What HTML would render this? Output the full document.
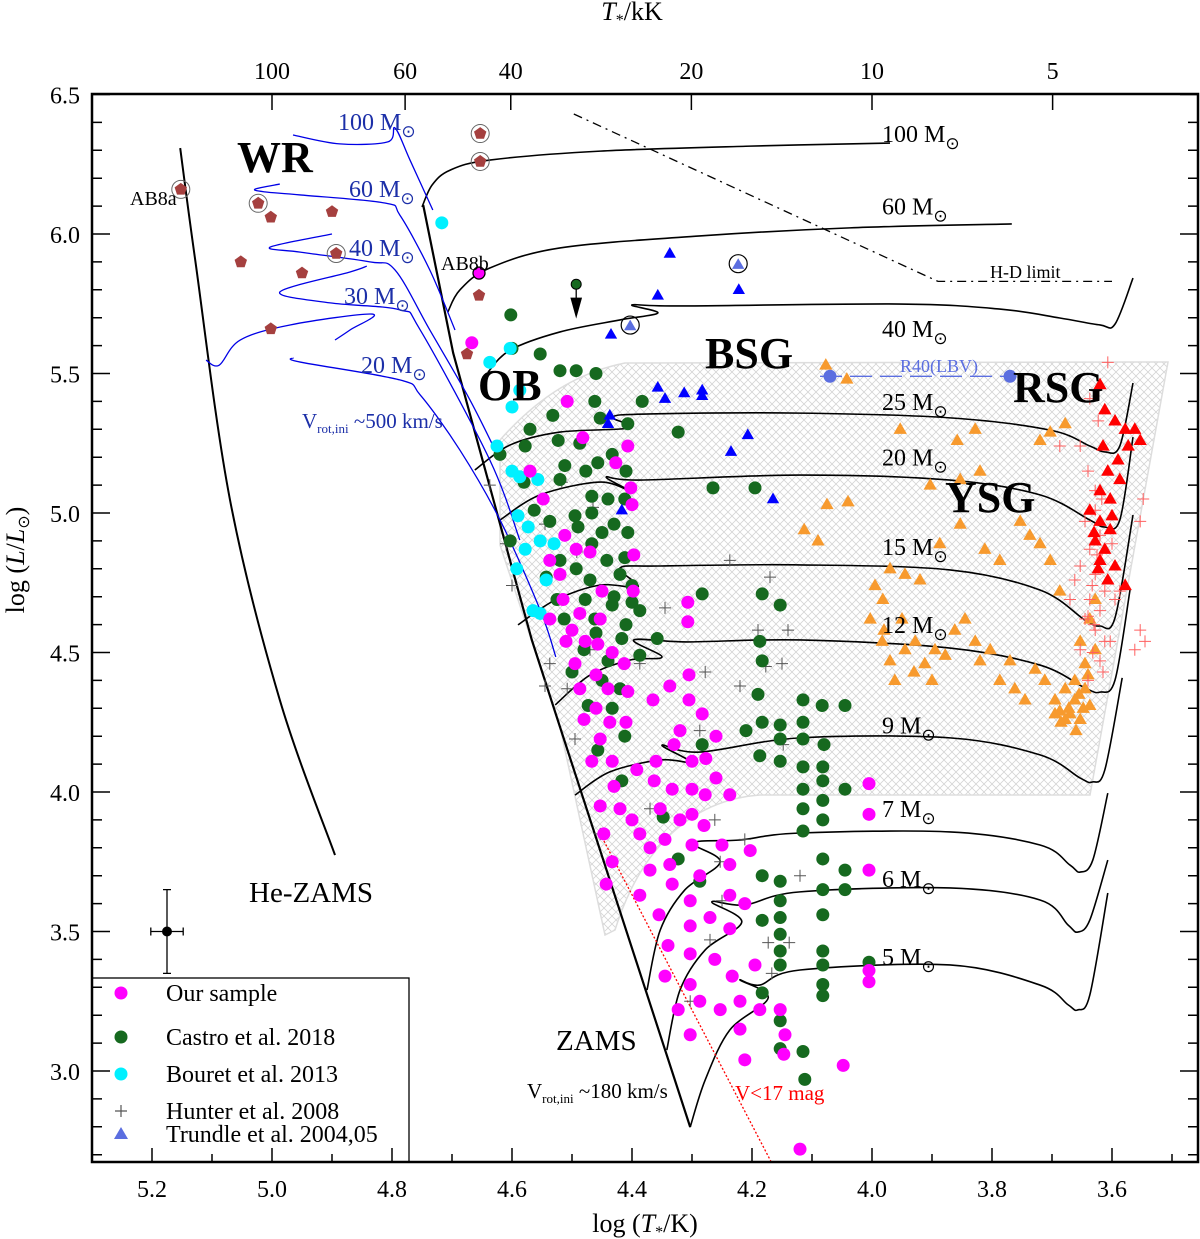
<!DOCTYPE html>
<html><head><meta charset="utf-8">
<style>
html,body{margin:0;padding:0;background:#fff;}
svg{display:block;}
svg text{font-family:"Liberation Serif",serif;}
</style></head>
<body>
<svg id="chart" width="1200" height="1239" viewBox="0 0 1200 1239" xmlns="http://www.w3.org/2000/svg" font-family="Liberation Serif, serif">
<defs>
<pattern id="hatch" width="8" height="8" patternUnits="userSpaceOnUse">
<path d="M0,0 L8,8 M8,0 L0,8" stroke="#d4d4d4" stroke-width="0.8"/>
</pattern>
</defs>
<g id="layer-bg"></g>
<g id="layer-tracks"></g>
<g id="layer-points"></g>
<g id="layer-text"></g>
<g id="layer-axes"></g>
</svg>
<script>
// ---------- data arrays ----------
const xTicks = [5.2, 5.0, 4.8, 4.6, 4.4, 4.2, 4.0, 3.8, 3.6];
const xTickLabels = ["5.2","5.0","4.8","4.6","4.4","4.2","4.0","3.8","3.6"];
const yTicks = [3.0, 3.5, 4.0, 4.5, 5.0, 5.5, 6.0, 6.5];
const yTickLabels = ["3.0","3.5","4.0","4.5","5.0","5.5","6.0","6.5"];
const topTicksKK = [100, 60, 40, 20, 10, 5];

const ourSample = [[4.667,5.61],[4.508,5.40],[4.482,5.27],[4.407,5.24],[4.427,5.18],[4.402,5.09],[4.40,5.03],[4.57,5.15],[4.548,5.05],[4.512,4.92],[4.493,4.87],[4.537,4.83],[4.47,4.86],[4.45,4.72],[4.397,4.85],[4.398,4.72],[4.515,4.69],[4.537,4.62],[4.487,4.64],[4.453,4.62],[4.51,4.54],[4.478,4.54],[4.307,4.68],[4.307,4.61],[4.457,4.53],[4.433,4.50],[4.495,4.46],[4.487,4.37],[4.46,4.42],[4.44,4.37],[4.413,4.46],[4.407,4.36],[4.365,4.33],[4.337,4.38],[4.305,4.42],[4.305,4.33],[4.283,4.28],[4.26,4.20],[4.48,4.26],[4.453,4.19],[4.437,4.25],[4.41,4.25],[4.467,4.11],[4.433,4.11],[4.392,4.08],[4.36,4.11],[4.33,4.17],[4.30,4.11],[4.277,4.12],[4.363,4.04],[4.333,4.01],[4.30,4.01],[4.453,3.95],[4.42,3.94],[4.353,3.94],[4.30,3.92],[4.237,3.99],[4.278,3.99],[4.447,3.85],[4.387,3.85],[4.345,3.83],[4.30,3.81],[4.25,3.81],[4.203,3.79],[4.433,3.75],[4.37,3.72],[4.337,3.74],[4.287,3.70],[4.237,3.74],[4.443,3.67],[4.387,3.63],[4.333,3.67],[4.303,3.61],[4.237,3.63],[4.212,3.60],[4.355,3.56],[4.303,3.52],[4.27,3.55],[4.237,3.51],[4.34,3.45],[4.303,3.42],[4.262,3.40],[4.233,3.34],[4.345,3.34],[4.303,3.31],[4.195,3.38],[4.287,3.25],[4.22,3.25],[4.323,3.22],[4.253,3.22],[4.187,3.22],[4.303,3.13],[4.22,3.15],[4.153,3.22],[4.212,3.04],[4.145,3.13],[4.005,4.03],[4.005,3.92],[4.005,3.72],[4.005,3.36],[4.005,3.32],[4.048,3.02],[4.12,2.72],[4.147,3.06],[4.52,4.78],[4.50,4.58],[4.46,4.30],[4.43,4.02],[4.40,3.90],[4.37,3.80],[4.32,3.90],[4.28,3.88],[4.32,4.22],[4.26,4.05]];
const castro = [[4.602,5.71],[4.553,5.57],[4.60,5.59],[4.52,5.51],[4.493,5.51],[4.46,5.50],[4.462,5.40],[4.383,5.40],[4.453,5.34],[4.532,5.35],[4.407,5.32],[4.323,5.29],[4.57,5.30],[4.523,5.26],[4.487,5.25],[4.62,5.21],[4.578,5.24],[4.433,5.21],[4.512,5.17],[4.457,5.18],[4.477,5.15],[4.58,5.11],[4.52,5.12],[4.467,5.06],[4.44,5.05],[4.412,5.05],[4.41,5.15],[4.265,5.09],[4.195,5.09],[4.563,5.01],[4.537,4.97],[4.495,4.99],[4.467,5.00],[4.43,4.96],[4.407,4.93],[4.603,4.90],[4.52,4.83],[4.467,4.89],[4.442,4.83],[4.412,4.84],[4.543,4.77],[4.493,4.80],[4.47,4.76],[4.42,4.78],[4.40,4.74],[4.525,4.69],[4.478,4.69],[4.433,4.67],[4.40,4.68],[4.513,4.62],[4.462,4.62],[4.387,4.65],[4.283,4.71],[4.183,4.71],[4.153,4.67],[4.417,4.55],[4.358,4.55],[4.48,4.51],[4.387,4.49],[4.45,4.40],[4.42,4.37],[4.187,4.54],[4.183,4.47],[4.19,4.35],[4.115,4.33],[4.083,4.31],[4.045,4.31],[4.473,4.31],[4.433,4.30],[4.412,4.20],[4.283,4.17],[4.183,4.25],[4.115,4.25],[4.153,4.24],[4.21,4.22],[4.187,4.13],[4.153,4.19],[4.115,4.19],[4.08,4.17],[4.457,4.15],[4.417,4.04],[4.153,4.11],[4.115,4.09],[4.082,4.09],[4.082,4.04],[4.115,4.01],[4.045,4.01],[4.082,3.97],[4.115,3.94],[4.082,3.90],[4.115,3.86],[4.348,3.91],[4.323,3.76],[4.183,3.70],[4.045,3.72],[4.082,3.76],[4.153,3.68],[4.153,3.61],[4.082,3.65],[4.045,3.65],[4.287,3.68],[4.183,3.54],[4.153,3.55],[4.153,3.49],[4.082,3.56],[4.153,3.43],[4.082,3.43],[4.153,3.38],[4.082,3.38],[4.183,3.28],[4.082,3.31],[4.082,3.27],[4.153,3.18],[4.115,3.07],[4.005,3.39],[4.112,2.97],[4.153,3.08],[4.49,4.95],[4.45,4.93],[4.43,4.70],[4.41,4.60],[4.46,4.57],[4.50,4.43],[4.44,4.47]];
const bouret = [[4.717,6.04],[4.603,5.59],[4.637,5.54],[4.587,5.44],[4.60,5.38],[4.625,5.24],[4.60,5.15],[4.587,5.13],[4.557,5.12],[4.59,4.99],[4.573,4.95],[4.553,4.90],[4.578,4.87],[4.592,4.80],[4.543,4.76],[4.565,4.65],[4.553,4.64],[4.53,4.89]];
const hunter = [[4.637,5.10],[4.61,4.89],[4.545,4.96],[4.517,5.11],[4.465,5.02],[4.492,4.86],[4.60,4.74],[4.54,4.62],[4.545,4.38],[4.537,4.46],[4.508,4.37],[4.237,4.83],[4.17,4.77],[4.345,4.66],[4.14,4.58],[4.177,4.45],[4.15,4.46],[4.278,4.43],[4.22,4.38],[4.19,4.58],[4.148,4.17],[4.287,4.22],[4.387,4.46],[4.262,3.90],[4.253,3.75],[4.212,3.83],[4.12,3.70],[4.173,3.46],[4.138,3.46],[4.27,3.47],[4.167,3.35],[4.303,3.25],[4.25,3.61],[4.37,3.94],[4.453,3.85],[4.495,4.19],[4.47,4.51]];
const trundle = [[4.435,5.64],[4.337,5.93],[4.357,5.78],[4.222,5.80],[4.437,5.35],[4.44,5.32],[4.357,5.45],[4.345,5.41],[4.313,5.43],[4.283,5.44],[4.283,5.42],[4.207,5.28],[4.235,5.22],[4.165,5.05],[4.417,5.01]];
const trundleCircled = [[4.403,5.67],[4.223,5.89]];
const ysgT = [[4.077,5.53],[4.042,5.48],[4.113,4.94],[4.09,4.90],[4.075,5.03],[4.04,5.04],[3.953,5.30],[3.858,5.26],[3.828,5.30],[3.72,5.26],[3.703,5.29],[3.678,5.32],[3.903,5.10],[3.853,5.12],[3.82,5.15],[3.995,4.74],[3.982,4.69],[3.97,4.80],[3.945,4.78],[3.92,4.76],[3.887,4.89],[3.853,4.96],[3.812,4.87],[3.787,4.83],[3.753,4.97],[3.737,4.92],[3.72,4.89],[3.703,4.83],[3.687,4.72],[4.003,4.62],[3.983,4.54],[3.97,4.47],[3.962,4.40],[3.945,4.51],[3.928,4.54],[3.912,4.46],[3.895,4.51],[3.878,4.49],[3.862,4.58],[3.845,4.62],[3.828,4.54],[3.82,4.47],[3.803,4.51],[3.787,4.40],[3.77,4.47],[3.762,4.37],[3.745,4.33],[3.728,4.44],[3.712,4.40],[3.695,4.33],[3.687,4.29],[3.678,4.37],[3.67,4.28],[3.662,4.33],[3.653,4.26],[3.645,4.37],[3.637,4.31],[3.678,4.26],[3.662,4.40],[3.645,4.46],[3.628,4.51],[3.653,4.54],[3.637,4.62],[3.628,4.69],[3.695,4.28],[3.66,4.22],[3.672,4.30],[3.648,4.30],[3.685,4.25],[3.655,4.35],[3.64,4.42],[3.95,4.62],[3.90,4.40],[3.98,4.58],[3.93,4.43]];
const rsgT = [[3.62,5.46],[3.612,5.37],[3.595,5.33],[3.578,5.30],[3.562,5.30],[3.553,5.26],[3.573,5.24],[3.59,5.19],[3.607,5.15],[3.62,5.08],[3.603,5.05],[3.637,5.01],[3.62,4.97],[3.603,4.94],[3.628,4.90],[3.612,4.87],[3.62,4.83],[3.595,4.81],[3.578,4.74],[3.607,4.76],[3.623,4.80],[3.587,5.12],[3.615,5.24],[3.63,4.93],[3.60,4.99]];
const rsgCross = [[3.607,5.54],[3.637,5.41],[3.623,5.33],[3.653,5.24],[3.64,5.15],[3.628,5.08],[3.645,4.97],[3.62,4.92],[3.637,4.87],[3.653,4.81],[3.628,4.78],[3.612,4.72],[3.637,4.69],[3.62,4.65],[3.645,4.62],[3.628,4.58],[3.603,4.54],[3.653,4.51],[3.62,4.47],[3.64,4.40],[3.553,4.58],[3.562,4.51],[3.545,4.54],[3.553,4.97],[3.548,5.05],[3.587,4.72],[3.662,4.76],[3.67,4.69],[3.595,4.69],[3.612,4.54],[3.633,4.74],[3.617,5.05],[3.60,4.89],[3.628,5.01],[3.687,5.24],[3.63,4.60],[3.625,4.85],[3.64,4.63],[3.615,4.43],[3.632,4.50]];
const wrStars = [[5.152,6.16,1],[5.023,6.11,1],[5.002,6.06,0],[4.90,6.08,0],[4.893,5.93,1],[5.052,5.90,0],[4.95,5.86,0],[5.002,5.66,0],[4.653,6.36,1],[4.653,6.26,1],[4.655,5.78,0],[4.675,5.57,0]];
const lbv = [[4.07,5.49],[3.77,5.49]];

const zams = [[4.748,6.104],[4.698,5.573],[4.687,5.487],[4.567,4.545],[4.52,4.233],[4.303,2.799]];
const heZams = [[5.153,6.308],[5.128,5.907],[5.07,5.047],[4.987,4.33],[4.895,3.774]];
const trackMasses = ["100","60","40","25","20","15","12","9","7","6","5"];
const trackLabelL = [6.33,6.07,5.63,5.37,5.17,4.85,4.57,4.21,3.91,3.66,3.38];
const tracks = [
 [[4.75,6.097],[4.733,6.176],[4.703,6.229],[4.637,6.265],[4.453,6.297],[4.203,6.315],[3.97,6.326]],
 [[4.707,5.72],[4.687,5.799],[4.637,5.878],[4.52,5.95],[4.287,5.993],[4.037,6.022],[3.767,6.036]],
 [[4.64,5.505],[4.603,5.584],[4.52,5.649],[4.42,5.692],[4.357,5.717],[4.4,5.746],[4.32,5.742],[3.953,5.749],[3.787,5.731],[3.687,5.699],[3.62,5.674],[3.595,5.677],[3.565,5.842]],
 [[4.662,5.154],[4.603,5.244],[4.52,5.29],[4.403,5.305],[4.433,5.344],[4.37,5.355],[4.12,5.358],[3.87,5.341],[3.703,5.297],[3.637,5.24],[3.612,5.219],[3.587,5.24],[3.565,5.466]],
 [[4.62,4.975],[4.553,5.065],[4.453,5.111],[4.4,5.075],[4.443,5.129],[4.387,5.118],[4.12,5.136],[3.87,5.118],[3.72,5.065],[3.637,4.975],[3.613,4.95],[3.587,4.975],[3.565,5.272]],
 [[4.59,4.599],[4.528,4.688],[4.453,4.742],[4.39,4.735],[4.42,4.803],[4.353,4.81],[4.12,4.814],[3.87,4.796],[3.72,4.724],[3.645,4.616],[3.62,4.595],[3.595,4.624],[3.565,4.993]],
 [[4.528,4.312],[4.47,4.419],[4.403,4.473],[4.35,4.484],[4.397,4.545],[4.308,4.538],[4.12,4.545],[3.87,4.516],[3.72,4.455],[3.645,4.373],[3.62,4.358],[3.595,4.401],[3.57,4.724]],
 [[4.495,3.989],[4.437,4.072],[4.353,4.115],[4.303,4.108],[4.35,4.168],[4.287,4.143],[4.12,4.194],[3.87,4.194],[3.72,4.133],[3.653,4.05],[3.633,4.036],[3.612,4.079],[3.583,4.409]],
 [[4.375,3.29],[4.353,3.505],[4.312,3.649],[4.253,3.749],[4.298,3.817],[4.22,3.828],[4.12,3.853],[3.87,3.857],[3.72,3.81],[3.67,3.738],[3.653,3.713],[3.632,3.756],[3.607,3.996]],
 [[4.342,3.075],[4.32,3.29],[4.278,3.434],[4.217,3.534],[4.267,3.606],[4.212,3.595],[4.12,3.642],[3.87,3.656],[3.72,3.613],[3.673,3.523],[3.657,3.498],[3.637,3.541],[3.607,3.756]],
 [[4.303,2.799],[4.278,2.968],[4.237,3.147],[4.173,3.262],[4.22,3.326],[4.187,3.308],[4.12,3.362],[3.87,3.38],[3.72,3.308],[3.673,3.237],[3.657,3.219],[3.637,3.272],[3.607,3.638]]
];
const rotTrackMasses = ["100","60","40","30","20"];
const rotTracks = [
 [[4.732,6.086],[4.77,6.265],[4.795,6.38],[4.807,6.33],[4.887,6.323],[4.965,6.355]],
 [[4.987,6.179],[5.028,6.161],[5.012,6.151],[4.953,6.14],[4.812,6.111],[4.787,6.068],[4.737,5.871],[4.695,5.656]],
 [[4.9,6.0],[5.003,5.953],[4.953,5.935],[4.837,5.9],[4.795,5.871],[4.737,5.656],[4.67,5.405],[4.62,5.19]],
 [[4.842,5.885],[4.87,5.864],[4.987,5.792],[4.903,5.753],[4.787,5.728],[4.753,5.656],[4.637,5.19],[4.587,4.903]],
 [[5.11,5.548],[5.088,5.53],[5.053,5.62],[4.97,5.674],[4.833,5.713],[4.87,5.656],[4.895,5.62]],
 [[4.965,5.556],[4.953,5.541],[4.787,5.477],[4.753,5.423],[4.687,5.226],[4.62,4.975],[4.553,4.652],[4.527,4.484]]
];
const hdLimit = [[4.497,6.43],[3.89,5.83],[3.60,5.83]];
const vLimit = [[4.453,3.85],[4.167,2.67]];
const errBar = [5.175, 3.5, 0.027, 0.15];

// ---------- scales ----------
const X = t => 272 + (5 - t) * 600;
const Y = l => 513 + (5 - l) * 279;
const NS = "http://www.w3.org/2000/svg";
function mk(tag, parent) { const e = document.createElementNS(NS, tag); parent.appendChild(e); return e; }
const gBg = document.getElementById('layer-bg');
const gTr = document.getElementById('layer-tracks');
const gPt = document.getElementById('layer-points');
const gTx = document.getElementById('layer-text');
const gAx = document.getElementById('layer-axes');
function pathD(arr){ return arr.map((p,i)=>(i?'L':'M')+X(p[0]).toFixed(1)+','+Y(p[1]).toFixed(1)).join(' '); }
function smoothD(arr){
  const P = arr.map(p=>[X(p[0]),Y(p[1])]);
  let d = 'M'+P[0][0]+','+P[0][1];
  for(let i=0;i<P.length-1;i++){
    const p0=P[Math.max(0,i-1)],p1=P[i],p2=P[i+1],p3=P[Math.min(P.length-1,i+2)];
    const c1=[p1[0]+(p2[0]-p0[0])/6,p1[1]+(p2[1]-p0[1])/6];
    const c2=[p2[0]-(p3[0]-p1[0])/6,p2[1]-(p3[1]-p1[1])/6];
    d+=' C'+c1.join(',')+' '+c2.join(',')+' '+p2.join(',');
  }
  return d;
}
function txt(parent,x,y,s,opts){
  const t=mk('text',parent); t.setAttribute('x',x); t.setAttribute('y',y);
  t.setAttribute('font-family','Liberation Serif, serif');
  t.setAttribute('font-size',opts.size||24); if(opts.fill) t.setAttribute('fill',opts.fill);
  if(opts.weight) t.setAttribute('font-weight',opts.weight);
  if(opts.anchor) t.setAttribute('text-anchor',opts.anchor);
  t.innerHTML=s; return t;
}

// hatched region
const hatch = mk('path', gBg);


hatch.setAttribute('d','M500,440 C540,395 580,372 625,363 L1168,362 L1090,795 L760,795 C690,800 640,850 615,930 L605,935 L560,727 L500,545 Z');
hatch.setAttribute('fill','url(#hatch)'); hatch.setAttribute('stroke','#dddddd'); hatch.setAttribute('stroke-width','1.5');

// ZAMS, He-ZAMS
const zl = mk('path', gTr);


zl.setAttribute('d',pathD(zams)); zl.setAttribute('fill','none'); zl.setAttribute('stroke','#000'); zl.setAttribute('stroke-width','2.2');
const hz = mk('path', gTr);


hz.setAttribute('d',smoothD(heZams)); hz.setAttribute('fill','none'); hz.setAttribute('stroke','#000'); hz.setAttribute('stroke-width','2');

tracks.forEach((tr,i)=>{
  const p = mk('path', gTr);
  
  
  p.setAttribute('d',smoothD(tr)); p.setAttribute('fill','none'); p.setAttribute('stroke','#000'); p.setAttribute('stroke-width','1.6');
  const lbl = txt(gTx, 882, Y(trackLabelL[i]), trackMasses[i]+' M<tspan font-size="17" dy="7">⊙</tspan>', {size:24});
  
  
});
rotTracks.forEach((tr,i)=>{
  const p = mk('path', gTr);
  
  
  p.setAttribute('d',smoothD(tr)); p.setAttribute('fill','none'); p.setAttribute('stroke','#0000e6'); p.setAttribute('stroke-width','1.3');
});
const rotLab = [[338,130],[349,197],[349,256],[344,304],[361,373]];
rotTrackMasses.forEach((m,i)=>{
  const l = txt(gTx, rotLab[i][0], rotLab[i][1], m+' M<tspan font-size="17" dy="7">⊙</tspan>', {size:24, fill:'#1c2fa8'});
  
  
});

// H-D limit
const hd = mk('path', gTr);


hd.setAttribute('d',pathD(hdLimit)); hd.setAttribute('fill','none'); hd.setAttribute('stroke','#000'); hd.setAttribute('stroke-width','1.3'); hd.setAttribute('stroke-dasharray','9,5,2,5');
// V<17 limit
const vl = mk('path', gTr);


vl.setAttribute('d',pathD(vLimit)); vl.setAttribute('fill','none'); vl.setAttribute('stroke','#ff0000'); vl.setAttribute('stroke-width','1.3'); vl.setAttribute('stroke-dasharray','2,2');
// LBV dashed line
const lb = mk('path', gTr);


lb.setAttribute('d','M'+(X(lbv[0][0])-10)+','+Y(lbv[0][1])+' L'+X(lbv[1][0])+','+Y(lbv[1][1]));
lb.setAttribute('stroke','#5b6ee0'); lb.setAttribute('stroke-width','1.3'); lb.setAttribute('stroke-dasharray','22,8');

// markers
function circle(arr, name, fill, r){
  arr.forEach(p=>{
    const c = mk('circle', gPt);
    
    
    c.setAttribute('cx',X(p[0])); c.setAttribute('cy',Y(p[1])); c.setAttribute('r',r); c.setAttribute('fill',fill);
  });
}
function tri(arr, name, fill, s){
  arr.forEach(p=>{
    const x=X(p[0]), y=Y(p[1]);
    const t = mk('polygon', gPt);
    
    
    t.setAttribute('points',`${x},${y-s} ${x-s*0.95},${y+s*0.65} ${x+s*0.95},${y+s*0.65}`); t.setAttribute('fill',fill);
  });
}
function cross(arr, name, stroke, s, w){
  arr.forEach(p=>{
    const x=X(p[0]), y=Y(p[1]);
    const c = mk('path', gPt);
    
    
    c.setAttribute('d',`M${x-s},${y} L${x+s},${y} M${x},${y-s} L${x},${y+s}`); c.setAttribute('stroke',stroke); c.setAttribute('stroke-width',w);
  });
}
cross(hunter,'hunter-star','#555',6,1);
circle(castro,'castro-star','#16691f',6.5);
circle(bouret,'bouret-star','#00f0ff',6.5);
circle(ourSample,'our-sample-star','#ff00ff',6.5);
tri(ysgT,'ysg-star','#f79a2e',7);
cross(rsgCross,'rsg-cross','#ff6060',6,1);
tri(rsgT,'rsg-star','#ff0000',7);
tri(trundle,'trundle-star','#0000ff',6.5);
trundleCircled.forEach(p=>{
  const c = mk('circle', gPt);
  
  
  c.setAttribute('cx',X(p[0])); c.setAttribute('cy',Y(p[1])-1); c.setAttribute('r',9); c.setAttribute('fill','none'); c.setAttribute('stroke','#000'); c.setAttribute('stroke-width','1.2');
});
tri(trundleCircled,'trundle-circled-star','#5b6ee0',6.5);
wrStars.forEach(p=>{
  const x=X(p[0]), y=Y(p[1]);
  if(p[2]){
    const c = mk('circle', gPt);
    
    
    c.setAttribute('cx',x); c.setAttribute('cy',y); c.setAttribute('r',9); c.setAttribute('fill','none'); c.setAttribute('stroke','#666'); c.setAttribute('stroke-width','1');
  }
  let pts=[]; for(let k=0;k<5;k++){const a=-Math.PI/2+k*2*Math.PI/5; pts.push((x+6.5*Math.cos(a)).toFixed(1)+','+(y+6.5*Math.sin(a)).toFixed(1));}
  const pg = mk('polygon', gPt);
  
  
  pg.setAttribute('points',pts.join(' ')); pg.setAttribute('fill','#a5403f');
});
// AB8b magenta circled
const ab8b = mk('circle', gPt);


ab8b.setAttribute('cx',X(4.655)); ab8b.setAttribute('cy',Y(5.86)); ab8b.setAttribute('r',6); ab8b.setAttribute('fill','#ff00ff'); ab8b.setAttribute('stroke','#000'); ab8b.setAttribute('stroke-width','1.3');
// green star with upper-limit arrow
const ul = mk('circle', gPt);


ul.setAttribute('cx',X(4.493)); ul.setAttribute('cy',Y(5.82)); ul.setAttribute('r',5); ul.setAttribute('fill','#16691f'); ul.setAttribute('stroke','#000'); ul.setAttribute('stroke-width','1');
const ar = mk('path', gPt);


ar.setAttribute('d',`M${X(4.493)},${Y(5.82)+5} L${X(4.493)},${Y(5.82)+26} M${X(4.493)-5},${Y(5.82)+14} L${X(4.493)},${Y(5.82)+32} L${X(4.493)+5},${Y(5.82)+14} Z`);
ar.setAttribute('stroke','#000'); ar.setAttribute('fill','#000'); ar.setAttribute('stroke-width','1.3');
// LBV dots
lbv.forEach(p=>{
  const c = mk('circle', gPt);
  
  
  c.setAttribute('cx',X(p[0])); c.setAttribute('cy',Y(p[1])); c.setAttribute('r',6.5); c.setAttribute('fill','#5b6ee0');
});
// error bar
const eb = mk('path', gPt);


const ex=X(errBar[0]), ey=Y(errBar[1]);
const edx=errBar[2]*600, edy=errBar[3]*279;
eb.setAttribute('d',`M${ex-edx},${ey} L${ex+edx},${ey} M${ex},${ey-edy} L${ex},${ey+edy} M${ex-edx},${ey-4} L${ex-edx},${ey+4} M${ex+edx},${ey-4} L${ex+edx},${ey+4} M${ex-4},${ey-edy} L${ex+4},${ey-edy} M${ex-4},${ey+edy} L${ex+4},${ey+edy}`);
eb.setAttribute('stroke','#000'); eb.setAttribute('stroke-width','1.3');
const ebd = mk('circle', gPt);


ebd.setAttribute('cx',ex); ebd.setAttribute('cy',ey); ebd.setAttribute('r',5); ebd.setAttribute('fill','#000');

// region labels and annotations
const labels = [
 ['wr-label',237,172,'WR',{size:44,weight:'bold'}],
 ['ob-label',478,400,'OB',{size:44,weight:'bold'}],
 ['bsg-label',705,368,'BSG',{size:44,weight:'bold'}],
 ['rsg-label',1013,402,'RSG',{size:44,weight:'bold'}],
 ['ysg-label',945,512,'YSG',{size:44,weight:'bold'}],
 ['ab8a-label',130,205,'AB8a',{size:20}],
 ['ab8b-label',441,270,'AB8b',{size:20}],
 ['hd-limit-label',990,278,'H-D limit',{size:18}],
 ['r40-lbv-label',900,372,'R40(LBV)',{size:18,fill:'#5b6ee0'}],
 ['he-zams-label',249,902,'He-ZAMS',{size:29}],
 ['zams-label',556,1050,'ZAMS',{size:29}],
 ['v17-label',735,1100,'V&lt;17 mag',{size:21,fill:'#ff0000'}],
 ['vrot500-label',302,428,'V<tspan font-size="13" dy="5">rot,ini</tspan><tspan dy="-5"> ~500 km/s</tspan>',{size:21,fill:'#1c2fa8'}],
 ['vrot180-label',527,1098,'V<tspan font-size="13" dy="5">rot,ini</tspan><tspan dy="-5"> ~180 km/s</tspan>',{size:21}]
];
labels.forEach(l=>{
  const t = txt(gTx,l[1],l[2],l[3],l[4]);
  
  
});

// legend
const lg = mk('g', gAx);


const lgb = mk('rect', lg);


lgb.setAttribute('x',92); lgb.setAttribute('y',978); lgb.setAttribute('width',317); lgb.setAttribute('height',184); lgb.setAttribute('fill','#fff'); lgb.setAttribute('stroke','#000'); lgb.setAttribute('stroke-width','1.3');
const legItems = [['legend-our-sample','Our sample',1001],['legend-castro','Castro et al. 2018',1045],['legend-bouret','Bouret et al. 2013',1082],['legend-hunter','Hunter et al. 2008',1119],['legend-trundle','Trundle et al. 2004,05',1142]];
const legColors = ['#ff00ff','#16691f','#00f0ff'];
legItems.forEach((it,i)=>{
  const cy = it[2]-8;
  if(i<3){ const c=mk('circle',lg);   c.setAttribute('cx',121); c.setAttribute('cy',cy); c.setAttribute('r',6.5); c.setAttribute('fill',legColors[i]); }
  else if(i===3){ const c=mk('path',lg);   c.setAttribute('d',`M115,${cy} L127,${cy} M121,${cy-6} L121,${cy+6}`); c.setAttribute('stroke','#555'); c.setAttribute('stroke-width','1.2'); }
  else { const c=mk('polygon',lg);   c.setAttribute('points',`121,${cy-7} 114,${cy+5} 128,${cy+5}`); c.setAttribute('fill','#5b6ee0'); }
  const t = txt(lg,166,it[2],it[1],{size:24});
  
  
});

// axes frame
const fr = mk('rect', gAx);


fr.setAttribute('x',92); fr.setAttribute('y',94); fr.setAttribute('width',1106); fr.setAttribute('height',1068); fr.setAttribute('fill','none'); fr.setAttribute('stroke','#000'); fr.setAttribute('stroke-width','2.5');
let tk='';
for(let v=5.3; v>=3.45; v-=0.1){ const x=X(v); const maj = Math.abs(Math.round(v*5)-v*5)<0.01; const len = maj?14:8; tk+=`M${x},1162 L${x},${1162-len} `; }
for(let v=2.7; v<=6.5; v+=0.1){ const y=Y(v); const maj = Math.abs(Math.round(v*2)-v*2)<0.01; const len = maj?18:10; tk+=`M92,${y} L${92+len},${y} M1198,${y} L${1198-len},${y} `; }
topTicksKK.forEach(k=>{ const x=X(Math.log10(k*1000)); tk+=`M${x},94 L${x},110 `; });
const tp = mk('path', gAx);


tp.setAttribute('d',tk); tp.setAttribute('stroke','#000'); tp.setAttribute('stroke-width','1.5');
xTicks.forEach((v,i)=>{ const t=txt(gAx,X(v),1197,xTickLabels[i],{size:24,anchor:'middle'});   });
yTicks.forEach((v,i)=>{ const t=txt(gAx,80,Y(v)+9,yTickLabels[i],{size:24,anchor:'end'});   });
topTicksKK.forEach(k=>{ const t=txt(gAx,X(Math.log10(k*1000)),79,String(k),{size:24,anchor:'middle'});   });
const xt = txt(gAx,645,1232,'log (<tspan font-style="italic">T</tspan><tspan font-size="16" dy="5">*</tspan><tspan dy="-5">/K)</tspan>',{size:26,anchor:'middle'});
 
const tt = txt(gAx,632,20,'<tspan font-style="italic">T</tspan><tspan font-size="16" dy="5">*</tspan><tspan dy="-5">/kK</tspan>',{size:26,anchor:'middle'});
 
const yt = txt(gAx,0,0,'log (<tspan font-style="italic">L</tspan>/<tspan font-style="italic">L</tspan><tspan font-size="16" dy="5">⊙</tspan><tspan dy="-5">)</tspan>',{size:26,anchor:'middle'});
yt.setAttribute('transform','translate(24,560) rotate(-90)');
 
</script>
</body></html>
